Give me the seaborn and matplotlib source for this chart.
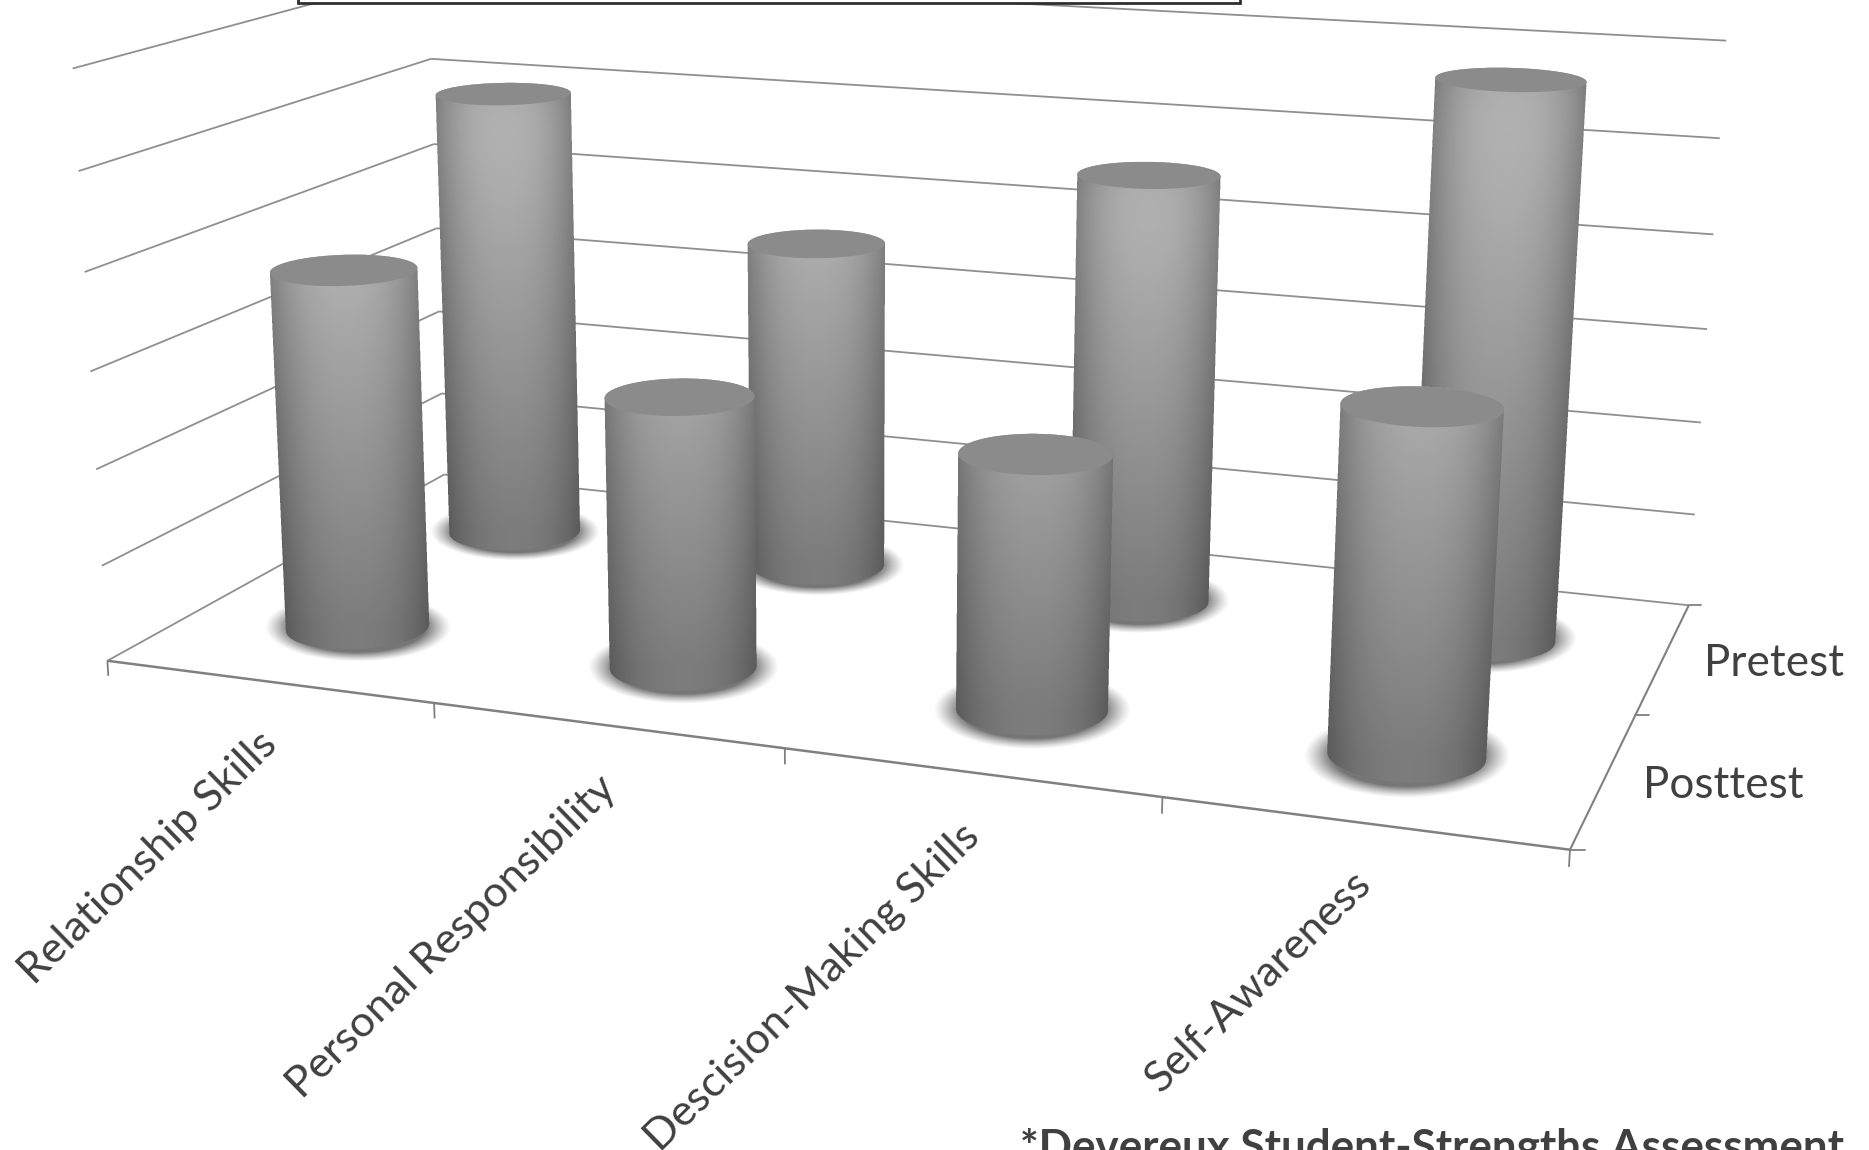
import numpy as np
import pandas as pd
import seaborn as sns
import matplotlib
matplotlib.use("Agg")
import matplotlib.pyplot as plt
from matplotlib.path import Path
from matplotlib.patches import Polygon

categories = ["Relationship Skills", "Personal Responsibility",
              "Descision-Making Skills", "Self-Awareness"]
series_names = ["Posttest", "Pretest"]
posttest = [3.78, 2.79, 2.56, 3.36]
pretest = [4.99, 3.59, 4.58, 5.78]
z_levels = [0, 1, 2, 3, 4, 5, 6]

sns.set_theme(style="white")
plt.rcParams["font.family"] = ["Lato", "DejaVu Sans"]

W, H = 1869, 1150
fig = plt.figure(figsize=(W / 100, H / 100), dpi=100, facecolor="white")
ax = fig.add_axes([0, 0, 1, 1])
ax.set_axis_off()

# Camera: a 3D homography from (category, depth, level) to canvas pixels
anchors = [
    ((0, 0, 0), (107, 661)), ((0, 0, 6), (72, 70)),
    ((0, 2, 0), (444, 475)), ((0, 2, 5), (432, 58)),
    ((4, 2, 0), (1688, 606)), ((4, 2, 6), (1726, 40)),
    ((4, 0, 0), (1570, 850)), ((1, 0, 0), (434, 702)),
    ((2, 0, 0), (786, 747)), ((3, 0, 0), (1162, 797)),
    ((4, 1, 0), (1636, 716)),
]
rows, rhs = [], []
for (X, Y, Z), (u, v) in anchors:
    rows.append([X, Y, Z, 1, 0, 0, 0, 0, -u * X, -u * Y, -u * Z])
    rhs.append(u)
    rows.append([0, 0, 0, 0, X, Y, Z, 1, -v * X, -v * Y, -v * Z])
    rhs.append(v)
coef = np.linalg.lstsq(np.array(rows, float), np.array(rhs, float), rcond=None)[0]
P = np.append(coef, 1.0).reshape(3, 4)


def project(x, y, z):
    x, y, z = np.broadcast_arrays(np.asarray(x, float), np.asarray(y, float), np.asarray(z, float))
    w = P @ np.stack([x, y, z, np.ones_like(x)])
    return w[0] / w[2], w[1] / w[2]


def seg(ax_, a, b, **kw):
    xs, ys = project([a[0], b[0]], [a[1], b[1]], [a[2], b[2]])
    ax_.plot(xs, ys, solid_capstyle="butt", **kw)


GRID = "#8f8f8f"
AXIS = "#808080"
for lvl in z_levels:
    seg(ax, (0, 0, lvl), (0, 2, lvl), color=GRID, lw=1.3, zorder=1)
    seg(ax, (0, 2, lvl), (4, 2, lvl), color=GRID, lw=1.3, zorder=1)

# Floor outline and tick marks
seg(ax, (0, 0, 0), (4, 0, 0), color=AXIS, lw=1.8, zorder=1)
seg(ax, (4, 0, 0), (4, 2, 0), color=AXIS, lw=1.5, zorder=1)
for i in range(len(categories) + 1):
    seg(ax, (i, 0, 0), (i, 0, -0.16), color=AXIS, lw=1.3, zorder=1)
for j in range(len(series_names) + 1):
    x0, y0 = project(4, j, 0)
    x1, y1 = project(4.035, j, 0)
    ax.plot([x0, x1], [y0, y0], color=AXIS, lw=1.3, zorder=1)

body_cmap = sns.blend_palette(["#4f4f4f", "#c8c8c8"], as_cmap=True)
RADIUS = 0.2
theta = np.linspace(0, 2 * np.pi, 181)


def hull(pts):
    pts = sorted(map(tuple, pts))
    def half(seq):
        out = []
        for p in seq:
            while len(out) > 1 and ((out[-1][0] - out[-2][0]) * (p[1] - out[-2][1])
                                    - (out[-1][1] - out[-2][1]) * (p[0] - out[-2][0])) <= 0:
                out.pop()
            out.append(p)
        return out[:-1]
    return np.array(half(pts) + half(pts[::-1]))


def put_image(rgba, x0, y0, zorder):
    h, w = rgba.shape[:2]
    ax.imshow(rgba, extent=(x0, x0 + w, y0 + h, y0), origin="upper",
              interpolation="nearest", aspect="auto", zorder=zorder)


def draw_cylinder(cx, cy, value, zorder):
    bx, by = project(cx + RADIUS * np.cos(theta), cy + RADIUS * np.sin(theta), 0)
    tx, ty = project(cx + RADIUS * np.cos(theta), cy + RADIUS * np.sin(theta), value)

    # Soft contact shadow around the foot
    ccx, ccy = bx.mean(), by.mean()
    a, b = (bx.max() - bx.min()) / 2 * 1.3, (by.max() - by.min()) / 2 * 1.55
    X0, Y0 = int(ccx - a - 3), int(ccy - b - 3)
    gx, gy = np.meshgrid(np.arange(X0, int(ccx + a + 4)) + .5, np.arange(Y0, int(ccy + b + 4)) + .5)
    d = np.sqrt(((gx - ccx) / a) ** 2 + ((gy - ccy) / b) ** 2)
    alpha = np.clip((1 - d) / 0.27, 0, 1) ** 1.2 * 0.8
    shadow = np.zeros(gx.shape + (4,))
    shadow[..., :3] = 0.33
    shadow[..., 3] = alpha
    put_image(shadow, X0, Y0, zorder)

    # Shaded body, antialiased through a supersampled polygon mask
    outline = hull(np.r_[np.c_[bx, by], np.c_[tx, ty]])
    X0, X1 = int(outline[:, 0].min()) - 2, int(outline[:, 0].max()) + 3
    Y0, Y1 = int(outline[:, 1].min()) - 2, int(outline[:, 1].max()) + 3
    ss = 3
    sx, sy = np.meshgrid(np.arange(X0, X1, 1 / ss) + .5 / ss, np.arange(Y0, Y1, 1 / ss) + .5 / ss)
    inside = Path(outline).contains_points(np.c_[sx.ravel(), sy.ravel()]).reshape(sx.shape)
    mask = inside.reshape(Y1 - Y0, ss, X1 - X0, ss).mean(axis=(1, 3))

    gx, gy = np.meshgrid(np.arange(X0, X1) + .5, np.arange(Y0, Y1) + .5)
    top_y, base_y = ty.mean(), by.mean()
    v = np.clip((gy - top_y) / (base_y - top_y), 0, 1)
    left = np.interp(v, [0, 1], [tx.min(), bx.min()])
    right = np.interp(v, [0, 1], [tx.max(), bx.max()])
    u = np.clip((gx - left) / (right - left), 0, 1)
    top_lum = min(186, 132 + 11.5 * value)
    lum = 124 + (top_lum - 124) * (1 - v)
    lum = lum - 16 * np.exp(-v / 0.06) * (value > 4)
    lum = lum * (1 - 0.27 * np.abs(2 * u - 1.0) ** 2.4)
    rgba = body_cmap((lum - 0x4f) / (0xc8 - 0x4f))
    rgba[..., 3] = mask
    put_image(rgba, X0, Y0, zorder + 0.1)

    # Flat cap
    ax.add_patch(Polygon(np.c_[tx, ty], closed=True, facecolor="#8b8b8b",
                         edgecolor="none", zorder=zorder + 0.2))


# Rear row first so the front row overlaps it
table = pd.DataFrame({"category": categories, "Posttest": posttest, "Pretest": pretest})
order = 2
for depth, name in [(1, "Pretest"), (0, "Posttest")]:
    for idx, val in enumerate(table[name]):
        draw_cylinder(idx + 0.5, depth + 0.5, val, zorder=order)
        order += 1

# Title frame reaching the top edge of the canvas
ax.add_patch(plt.Rectangle((298, -20), 942, 23, facecolor="white", edgecolor="#2f2f2f",
                           lw=2, zorder=30))

TEXT = "#404040"
label_centres = [(148, 858), (452, 937), (813, 987), (1259, 982)]
for name, (lx, ly) in zip(categories, label_centres):
    ax.text(lx, ly, name, rotation=44.3, rotation_mode="anchor", ha="center", va="center",
            fontsize=31.3, color=TEXT, zorder=40)
ax.text(1774, 663, "Pretest", ha="center", va="center", fontsize=31.7, color=TEXT, zorder=40)
ax.text(1723, 786, "Posttest", ha="center", va="center", fontsize=31.7, color=TEXT, zorder=40)
ax.text(1020, 1128, "*Devereux Student-Strengths Assessment", ha="left", va="top",
        fontsize=31.7, fontweight="bold", color=TEXT, zorder=40)

ax.set_xlim(0, W)
ax.set_ylim(H, 0)
fig.savefig("out.png", dpi=100, facecolor="white")
